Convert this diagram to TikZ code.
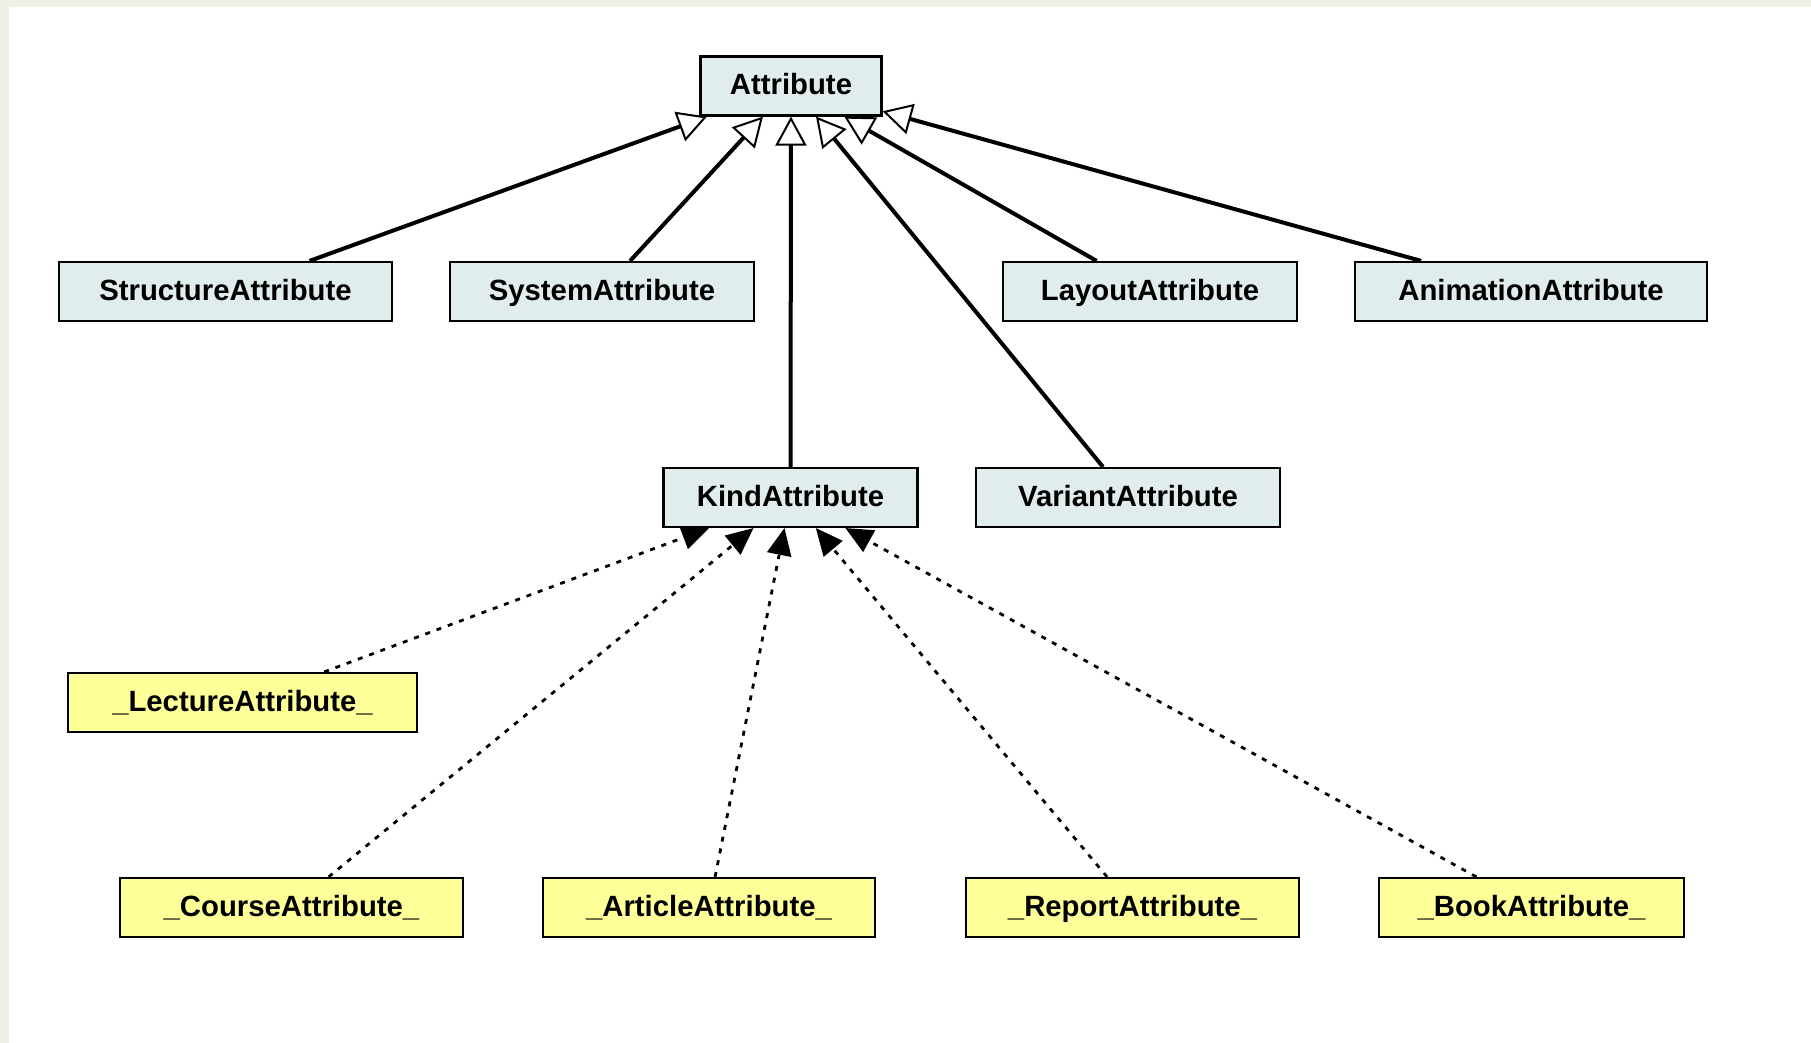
\documentclass[tikz,border=0pt]{standalone}
\usepackage{fontspec}
\setmainfont{Liberation Sans}
\usetikzlibrary{arrows.meta}
\definecolor{bgbeige}{HTML}{F0F0E5}
\definecolor{boxblue}{HTML}{E0EDEC}
\definecolor{boxyellow}{HTML}{FFFF99}
\tikzset{
  cls/.style={draw=black, line width=2.2pt, fill=boxblue, minimum height=59pt, inner sep=0pt,
    text height=20.5pt, text depth=3.5pt,
    font=\fontsize{29.3}{34}\selectfont\bfseries},
  tmpl/.style={cls, fill=boxyellow},
  inherit/.style={line width=4pt, -{Triangle[open, fill=white, length=29pt, width=31pt, line width=2pt]}},
  realize/.style={line width=2.8pt, dash pattern=on 5pt off 7pt, -{Triangle[length=27pt, width=25pt, line width=0pt, sep=0pt]}}
}
\begin{document}
\begin{tikzpicture}[x=1pt, y=-1pt]
\fill[bgbeige] (0,0) rectangle (1811,1043);
\fill[white] (9,7) rectangle (1811,1043);
\useasboundingbox (0,0) rectangle (1811,1043);

\node[cls, minimum width=181pt] (attr) at (791,86) {Attribute};
\node[cls, minimum width=333pt] (struct) at (225.5,291.5) {StructureAttribute};
\node[cls, minimum width=304pt] (system) at (602,291.5) {SystemAttribute};
\node[cls, minimum width=294pt] (layout) at (1150,291.5) {LayoutAttribute};
\node[cls, minimum width=352pt] (anim) at (1531,291.5) {AnimationAttribute};
\node[cls, minimum width=254pt] (kind) at (790.5,497.5) {KindAttribute};
\node[cls, minimum width=304pt] (variant) at (1128,497.5) {VariantAttribute};

\node[tmpl, minimum width=349pt] (lecture) at (242.5,702.5) {\_LectureAttribute\_};
\node[tmpl, minimum width=343pt] (course) at (291.5,907.5) {\_CourseAttribute\_};
\node[tmpl, minimum width=332pt] (article) at (709,907.5) {\_ArticleAttribute\_};
\node[tmpl, minimum width=333pt] (report) at (1132.5,907.5) {\_ReportAttribute\_};
\node[tmpl, minimum width=305pt] (book) at (1531.5,907.5) {\_BookAttribute\_};

\draw[inherit] (struct) -- (attr);
\draw[inherit] (system) -- (attr);
\draw[inherit] (kind) -- (attr);
\draw[inherit] (variant) -- (attr);
\draw[inherit] (layout) -- (attr);
\draw[inherit] (anim) -- (attr);

\draw[realize] (lecture) -- (kind);
\draw[realize] (course) -- (kind);
\draw[realize] (article) -- (kind);
\draw[realize] (report) -- (kind);
\draw[realize] (book) -- (kind);
\end{tikzpicture}
\end{document}
